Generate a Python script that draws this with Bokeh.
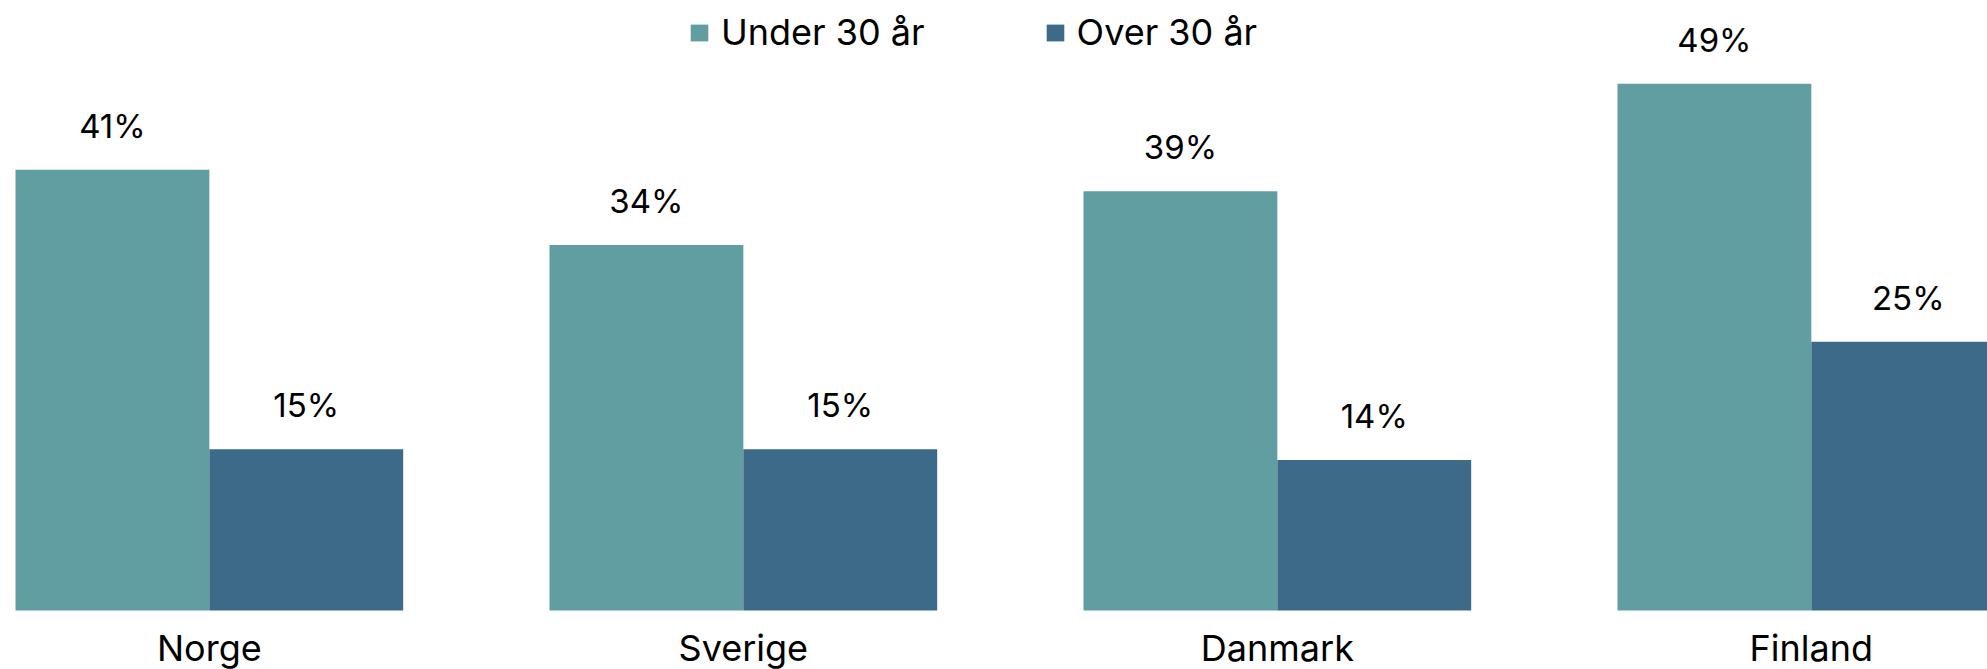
from bokeh.plotting import figure
from bokeh.models import Range1d, ColumnDataSource, Legend, LegendItem
from bokeh.core.properties import value
from bokeh.embed import file_html
from bokeh.resources import INLINE

countries = ["Norge", "Sverige", "Danmark", "Finland"]
under_30 = [41, 34, 39, 49]
over_30 = [15, 15, 14, 25]
series_names = ["Under 30 år", "Over 30 år"]
colors = ["#619EA1", "#3C6A88"]

FONT = "Inter"
BAR_W = 0.363
PX_PER_UNIT = 534.0
PX_PER_PCT = 10.75

W, H = 1987, 669
X0 = -0.3911
Y_BOTTOM_PX = 59  # space below the baseline for category labels

idx = list(range(len(countries)))
src_u = ColumnDataSource(dict(x=[i - BAR_W / 2 for i in idx], top=under_30,
                              lbl=[f"{v}%" for v in under_30]))
src_o = ColumnDataSource(dict(x=[i + BAR_W / 2 for i in idx], top=over_30,
                              lbl=[f"{v}%" for v in over_30]))
src_c = ColumnDataSource(dict(x=idx, y=[0] * len(idx), name=countries))

p = figure(width=W, height=H, output_backend="svg", toolbar_location=None,
           x_range=Range1d(X0, X0 + W / PX_PER_UNIT),
           y_range=Range1d(-Y_BOTTOM_PX / PX_PER_PCT, (H - Y_BOTTOM_PX) / PX_PER_PCT),
           min_border_left=0, min_border_right=0, min_border_top=0, min_border_bottom=0)
p.outline_line_color = None
p.grid.grid_line_color = None
p.xaxis.visible = False
p.yaxis.visible = False
p.background_fill_color = "white"
p.border_fill_color = "white"

r1 = p.vbar(x="x", top="top", width=BAR_W, bottom=0, source=src_u,
            fill_color=colors[0], line_color=None)
r2 = p.vbar(x="x", top="top", width=BAR_W, bottom=0, source=src_o,
            fill_color=colors[1], line_color=None)

for s in (src_u, src_o):
    p.text(x="x", y="top", text="lbl", source=s, text_align="center",
           text_baseline="alphabetic", y_offset=-44, text_font=value(FONT),
           text_font_size="33px", text_color="black")

# category labels under each group
p.text(x="x", y="y", text="name", source=src_c, text_align="center",
       text_baseline="alphabetic", y_offset=37, text_font=value(FONT),
       text_font_size="36px", text_color="black")

legend = Legend(items=[LegendItem(label=series_names[0], renderers=[r1]),
                       LegendItem(label=series_names[1], renderers=[r2])],
                orientation="horizontal", location=(688, 615),
                glyph_width=22, glyph_height=21, label_standoff=11, spacing=119,
                padding=0, margin=0, border_line_color=None,
                background_fill_alpha=0, label_text_font=FONT,
                label_text_font_size="36px", label_text_color="black")
p.add_layout(legend)

open("out.html", "w").write(file_html(p, INLINE))
